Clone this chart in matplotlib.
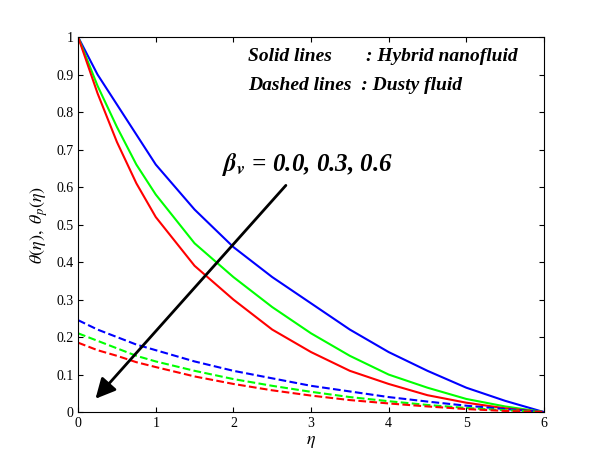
import matplotlib
matplotlib.use("Agg")
import matplotlib.pyplot as plt

plt.rcParams['font.family'] = ['Liberation Serif', 'DejaVu Serif']
plt.rcParams['mathtext.fontset'] = 'stix'
eta = [0, 0.25, 0.5, 0.75, 1, 1.5, 2, 2.5, 3, 3.5, 4, 4.5, 5, 5.5, 6]
blue = [1, 0.90, 0.82, 0.74, 0.66, 0.54, 0.44, 0.36, 0.29, 0.22, 0.16, 0.11, 0.065, 0.03, 0]
green = [1, 0.87, 0.76, 0.66, 0.58, 0.45, 0.36, 0.28, 0.21, 0.15, 0.10, 0.065, 0.035, 0.015, 0]
red = [1, 0.85, 0.72, 0.61, 0.52, 0.39, 0.30, 0.22, 0.16, 0.11, 0.075, 0.045, 0.025, 0.01, 0]
blue_d = [0.245, 0.22, 0.20, 0.18, 0.165, 0.135, 0.11, 0.09, 0.07, 0.055, 0.04, 0.028, 0.017, 0.008, 0]
green_d = [0.21, 0.19, 0.17, 0.15, 0.135, 0.11, 0.088, 0.07, 0.054, 0.04, 0.029, 0.019, 0.011, 0.005, 0]
red_d = [0.185, 0.165, 0.15, 0.133, 0.12, 0.095, 0.075, 0.058, 0.044, 0.032, 0.023, 0.015, 0.008, 0.003, 0]

fig = plt.figure(figsize=(6.01, 4.63), dpi=100)
ax = fig.add_axes([0.13, 0.11, 0.775, 0.81])
for y, c in [(blue, 'b'), (green, '#00ff00'), (red, 'r')]:
    ax.plot(eta, y, color=c, lw=1.5)
for y, c in [(blue_d, 'b'), (green_d, '#00ff00'), (red_d, 'r')]:
    ax.plot(eta, y, color=c, lw=1.5, ls='--')
ax.set_xlim(0, 6)
ax.set_ylim(0, 1)
ax.set_xticks(range(7))
ax.set_yticks([i/10 for i in range(11)])
ax.set_yticklabels(['0', '0.1', '0.2', '0.3', '0.4', '0.5', '0.6', '0.7', '0.8', '0.9', '1'])
ax.tick_params(direction='in', labelsize=10, top=True, right=True)
ax.set_xlabel(r'$\eta$', fontsize=13, labelpad=2)
ax.set_ylabel(r'$\theta(\eta),\ \theta_p(\eta)$', fontsize=13)
ax.annotate('', xy=(0.2, 0.03), xytext=(2.7, 0.61),
            arrowprops=dict(arrowstyle='-|>,head_width=0.4,head_length=0.8', color='k', lw=2, mutation_scale=15))
ax.text(1.85, 0.66, r'$\boldsymbol{\beta}_{\boldsymbol{v}}$ = 0.0, 0.3, 0.6', fontsize=18,
        fontweight='bold', style='italic', va='center')
ax.text(2.19, 0.947, 'Solid lines       : Hybrid nanofluid', fontsize=14, fontweight='bold', style='italic', va='center')
ax.text(2.19, 0.87, 'Dashed lines  : Dusty fluid', fontsize=14, fontweight='bold', style='italic', va='center')
fig.savefig('out.png', dpi=100)
